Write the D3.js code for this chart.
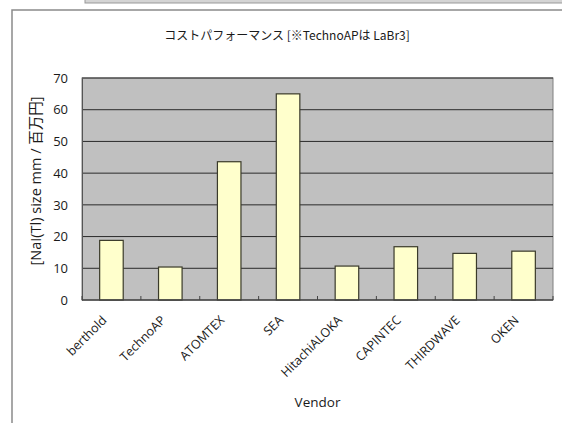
<!DOCTYPE html>
<html>
<head>
<meta charset="utf-8">
<script src="https://d3js.org/d3.v7.min.js"></script>
<style>
  html, body { margin: 0; padding: 0; background: #fff; overflow: hidden; }
  svg { display: block; }
</style>
</head>
<body>
<div id="chart"></div>
<script>
// Chart data
const vendors = ['berthold', 'TechnoAP', 'ATOMTEX', 'SEA', 'HitachiALOKA', 'CAPINTEC', 'THIRDWAVE', 'OKEN'];
const costPerf = [18.8, 10.4, 43.6, 65, 10.7, 16.8, 14.7, 15.4];
const yTicks = [0, 10, 20, 30, 40, 50, 60, 70];
const title = 'コストパフォーマンス [※TechnoAPは LaBr3]';
const yTitle = '[NaI(Tl) size mm / 百万円]';
const xTitle = 'Vendor';

const width = 562, height = 423;
const font = '"Open Sans", "Noto Sans CJK JP", sans-serif';
const plot = { left: 82, top: 78, right: 553, bottom: 300 };

const svg = d3.select('#chart')
    .append('svg')
    .attr('width', width)
    .attr('height', height);

// Tab strip above the sheet
svg.append('rect')
    .attr('x', 85).attr('y', -2)
    .attr('width', width).attr('height', 5)
    .attr('fill', '#d4d4d4')
    .attr('stroke', '#999');

// Chart area frame (runs off the right and bottom edges)
svg.append('rect')
    .attr('x', 12).attr('y', 10)
    .attr('width', width + 20).attr('height', height + 20)
    .attr('fill', '#fff')
    .attr('stroke', '#8a8a8a')
    .attr('stroke-width', 1.5);

const x = d3.scaleBand()
    .domain(vendors)
    .range([plot.left, plot.right])
    .paddingInner(0.6)
    .paddingOuter(0.3);

const xEdge = d3.scaleLinear()
    .domain([0, vendors.length])
    .range([plot.left, plot.right]);

const y = d3.scaleLinear()
    .domain([0, 70])
    .range([plot.bottom, plot.top]);

// Plot background
svg.append('rect')
    .attr('x', plot.left).attr('y', plot.top)
    .attr('width', plot.right - plot.left)
    .attr('height', plot.bottom - plot.top)
    .attr('fill', '#c0c0c0')
    .attr('stroke', '#808080');

// Gridlines
svg.append('g')
    .selectAll('line')
    .data(yTicks.filter(t => t > 0))
    .enter()
    .append('line')
    .attr('x1', plot.left).attr('x2', plot.right)
    .attr('y1', d => y(d)).attr('y2', d => y(d))
    .attr('stroke', '#2a2a2a')
    .attr('stroke-width', 1);

// Bars
svg.append('g')
    .selectAll('rect')
    .data(vendors)
    .enter()
    .append('rect')
    .attr('x', d => x(d))
    .attr('y', (d, i) => y(costPerf[i]))
    .attr('width', x.bandwidth())
    .attr('height', (d, i) => y(0) - y(costPerf[i]))
    .attr('fill', '#ffffcc')
    .attr('stroke', '#3a3a2a')
    .attr('stroke-width', 1.2);

// Y axis
const yAxis = svg.append('g')
    .attr('transform', `translate(${plot.left},0)`)
    .call(d3.axisLeft(y).tickValues(yTicks).tickSize(0).tickPadding(14));
yAxis.select('.domain').attr('stroke', '#555');
yAxis.selectAll('text')
    .attr('font-family', font)
    .attr('font-size', '13px')
    .attr('fill', '#1a1a1a');

// X axis with inner ticks at category boundaries
const xAxisG = svg.append('g');
xAxisG.append('line')
    .attr('x1', plot.left).attr('x2', plot.right)
    .attr('y1', plot.bottom).attr('y2', plot.bottom)
    .attr('stroke', '#444')
    .attr('stroke-width', 1.5);
xAxisG.selectAll('.xtick')
    .data(d3.range(vendors.length + 1))
    .enter()
    .append('line')
    .attr('x1', d => xEdge(d)).attr('x2', d => xEdge(d))
    .attr('y1', plot.bottom).attr('y2', plot.bottom - 4)
    .attr('stroke', '#444');

xAxisG.selectAll('.xlabel')
    .data(vendors)
    .enter()
    .append('text')
    .attr('transform', d => `translate(${x(d) + x.bandwidth() / 2 - 4},${plot.bottom + 21}) rotate(-45)`)
    .attr('text-anchor', 'end')
    .attr('font-family', font)
    .attr('font-size', '12.5px')
    .attr('fill', '#1a1a1a')
    .text(d => d);

// Titles
svg.append('text')
    .attr('x', 287).attr('y', 40)
    .attr('text-anchor', 'middle')
    .attr('font-family', '"Noto Sans CJK JP", sans-serif')
    .attr('font-size', '12px')
    .attr('fill', '#1a1a1a')
    .text(title);

svg.append('text')
    .attr('transform', `translate(41,${(plot.top + plot.bottom) / 2 - 8}) rotate(-90)`)
    .attr('text-anchor', 'middle')
    .attr('font-family', font)
    .attr('font-size', '14.5px')
    .attr('fill', '#1a1a1a')
    .text(yTitle);

svg.append('text')
    .attr('x', (plot.left + plot.right) / 2).attr('y', 407)
    .attr('text-anchor', 'middle')
    .attr('font-family', font)
    .attr('font-size', '13.5px')
    .attr('fill', '#1a1a1a')
    .text(xTitle);
</script>
</body>
</html>
